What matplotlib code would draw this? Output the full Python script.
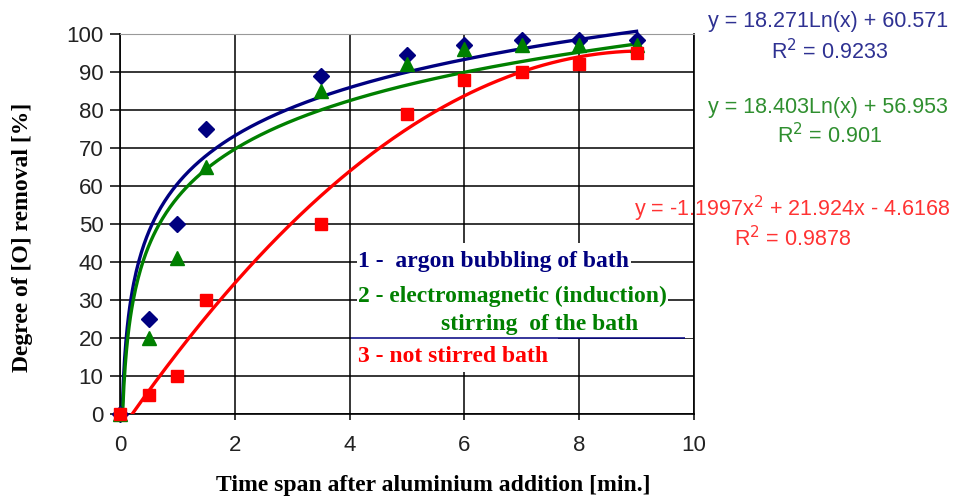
import numpy as np
import matplotlib
matplotlib.use("Agg")
import matplotlib.pyplot as plt
import matplotlib.patches as mpatches

# measured points
time_min = [0, 0.5, 1, 1.5, 3.5, 5, 6, 7, 8, 9]
argon = [0, 25, 50, 75, 89, 94.5, 97, 98.5, 98.5, 98.5]
induction = [0, 20, 41, 65, 85, 92, 96, 97, 97, 97]
not_stirred = [0, 5, 10, 30, 50, 79, 88, 90, 92, 95]

# trendline coefficients as printed on the chart
argon_log = [18.271, 60.571]
induction_log = [18.403, 56.953]
not_stirred_poly = [-1.1997, 21.924, -4.6168]

x_ticks = [0, 2, 4, 6, 8, 10]
y_ticks = [0, 10, 20, 30, 40, 50, 60, 70, 80, 90, 100]

NAVY = "#000080"
GREEN = "#008000"
RED = "#ff0000"
EQ_NAVY = "#2e3192"
EQ_GREEN = "#2f8f2f"
EQ_RED = "#ff3333"

serif = ["Liberation Serif", "DejaVu Serif"]
sans = ["Liberation Sans", "DejaVu Sans"]

fig = plt.figure(figsize=(9.6, 4.98), dpi=100)
ax = fig.add_axes([0.125, 0.1687, 0.5979, 0.763])

ax.set_xlim(0, 10)
ax.set_ylim(0, 100)
ax.set_xticks(x_ticks)
ax.set_yticks(y_ticks)
ax.grid(True, color="black", linewidth=1.1, zorder=0)
ax.set_axisbelow(True)
for s in ["left", "bottom", "right"]:
    ax.spines[s].set_color("black")
    ax.spines[s].set_linewidth(1.2)
ax.spines["top"].set_color("#999999")
ax.tick_params(axis="y", length=7, width=1.1, pad=5, labelsize=16, labelcolor="#222222")
ax.tick_params(axis="x", length=4, width=1.1, pad=11, labelsize=16, labelcolor="#222222")
for lab in ax.get_xticklabels() + ax.get_yticklabels():
    lab.set_fontfamily(sans)

# trendlines
x0 = np.exp(-argon_log[1] / argon_log[0])
xs = np.linspace(x0, 9, 400)
ax.plot(xs, argon_log[0] * np.log(xs) + argon_log[1], color=NAVY, lw=2.4, zorder=3, clip_on=False)
x0 = np.exp(-induction_log[1] / induction_log[0])
xs = np.linspace(x0, 9, 400)
ax.plot(xs, induction_log[0] * np.log(xs) + induction_log[1], color=GREEN, lw=2.4, zorder=3)
xs = np.linspace(0, 9, 400)
ax.plot(xs, np.polyval(not_stirred_poly, xs), color=RED, lw=2.4, zorder=3)

# markers
ax.plot(time_min, argon, linestyle="none", marker="D", ms=8, color=NAVY, zorder=4, clip_on=False)
ax.plot(time_min, induction, linestyle="none", marker="^", ms=10, color=GREEN, zorder=4, clip_on=False)
ax.plot(time_min, not_stirred, linestyle="none", marker="s", ms=9, color=RED, zorder=4, clip_on=False)

# legend boxes drawn as text in the plot
ax.add_patch(mpatches.Rectangle((4.03, 20), 5.95, 25, facecolor="white", edgecolor="none", zorder=1.5))
ax.add_patch(mpatches.Rectangle((4.03, 11), 3.6, 9, facecolor="white", edgecolor="none", zorder=1.5))
ax.hlines([40, 30], 4.03, 10, color="black", lw=1.1, zorder=1.6)
ax.hlines(20, 4.03, 9.85, color=NAVY, lw=1.1, zorder=1.7)

tb = dict(facecolor="white", edgecolor="none", pad=1)
fs_leg = 17
ax.text(4.15, 40, "1 -  argon bubbling of bath", color=NAVY, fontsize=fs_leg, fontweight="bold",
        family=serif, va="center", ha="left", bbox=tb, zorder=2)
ax.text(4.15, 31, "2 - electromagnetic (induction)", color=GREEN, fontsize=fs_leg, fontweight="bold",
        family=serif, va="center", ha="left", bbox=tb, zorder=2)
ax.text(5.6, 23.5, "stirring  of the bath", color=GREEN, fontsize=fs_leg, fontweight="bold",
        family=serif, va="center", ha="left", zorder=2)
ax.text(4.15, 15, "3 - not stirred bath", color=RED, fontsize=fs_leg, fontweight="bold",
        family=serif, va="center", ha="left", zorder=2)

ax.set_xlabel("Time span after aluminium addition [min.]", fontsize=17, fontweight="bold",
              family=serif)
ax.set_ylabel("Degree of [O] removal [%]", fontsize=17, fontweight="bold", family=serif)
ax.xaxis.set_label_coords(0.545, -0.16)
ax.yaxis.set_label_coords(-0.152, 0.465)

# trendline equations
fs_eq = 15.5
fig.text(828 / 960, 1 - 22 / 498, "y = 18.271Ln(x) + 60.571", color=EQ_NAVY, fontsize=fs_eq,
         family=sans, ha="center", va="center")
fig.text(830 / 960, 1 - 52 / 498, "R$^2$ = 0.9233", color=EQ_NAVY, fontsize=fs_eq,
         family=sans, ha="center", va="center")
fig.text(828 / 960, 1 - 107 / 498, "y = 18.403Ln(x) + 56.953", color=EQ_GREEN, fontsize=fs_eq,
         family=sans, ha="center", va="center")
fig.text(830 / 960, 1 - 136 / 498, "R$^2$ = 0.901", color=EQ_GREEN, fontsize=fs_eq,
         family=sans, ha="center", va="center")
fig.text(792 / 960, 1 - 209 / 498, "y = -1.1997x$^2$ + 21.924x - 4.6168", color=EQ_RED, fontsize=fs_eq,
         family=sans, ha="center", va="center")
fig.text(793 / 960, 1 - 239 / 498, "R$^2$ = 0.9878", color=EQ_RED, fontsize=fs_eq,
         family=sans, ha="center", va="center")

plt.savefig("out.png", dpi=100, facecolor="white")
